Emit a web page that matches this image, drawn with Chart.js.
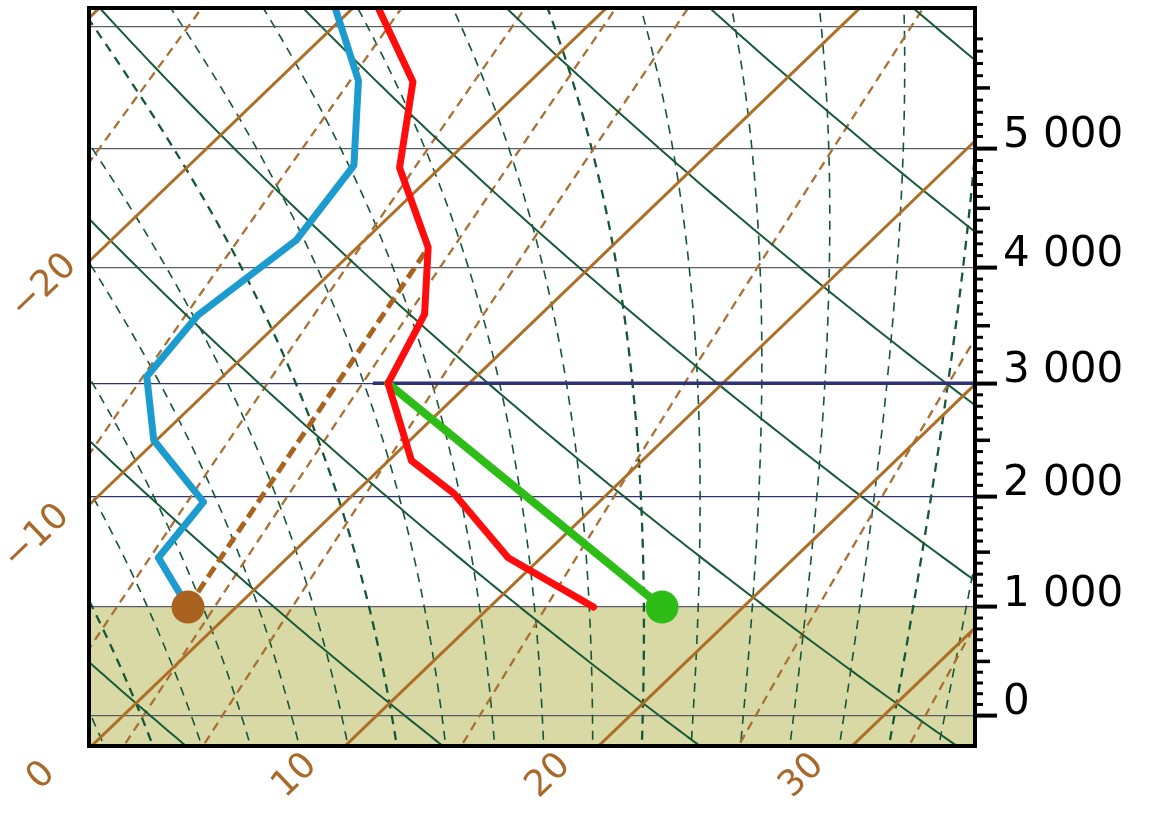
<!DOCTYPE html>
<html>
<head>
<meta charset="utf-8">
<script src="https://cdn.jsdelivr.net/npm/chart.js@4.4.1/dist/chart.umd.min.js"></script>
<style>
  html, body { margin: 0; padding: 0; background: #fff; }
</style>
</head>
<body>
<canvas id="skewt" width="1152" height="827"></canvas>
<script>
// ---- sounding (temperatures in °C, altitudes in m) ----
var tempAlt = [1000, 1450, 2030, 2320, 3000, 3600, 4170, 4840, 5550, 6150];
var tempC   = [14.1, 8.7, 3.9, 0.9, -3.2, -4.6, -7.2, -11.6, -14.6, -19.0];
var dewAlt  = [1000, 1450, 1950, 2500, 3060, 3590, 4230, 4860, 5560, 6150];
var dewC    = [-1.9, -5.1, -5.6, -10.1, -13.0, -13.5, -12.7, -13.5, -16.8, -20.7];
var parcelAlt = [1000, 3000];
var parcelC   = [16.8, -3.2];
var mixLineAlt = [1000, 3000, 4170];
var mixLineC   = [-1.9, -5.2, -7.2];
var groundAlt = 1000;
var cloudBaseAlt = 3000;
var cloudBaseC = [-3.8, 40];

// ---- diagram frame ----
var altRange = [-290, 6150];          // bottom / top of the diagram
var bottomTempRange = [-0.1, 34.85];  // temperature along the bottom edge
var altTickMax = 6000;
var altLabels = [0, 1000, 2000, 3000, 4000, 5000];
var isoLabels = [-20, -10, 0, 10, 20, 30];

// ---- background lines ----
var isotherms = [-40, -30, -20, -10, 0, 10, 20, 30, 40];
var dryAdiabats = [-10, 0, 10, 20, 30, 40, 50, 60, 70, 80];
var moistAdiabats = [-10, -8, -6, -4, -2, 0, 2, 4, 6, 8, 10, 12, 14, 16, 18, 20,
                     22, 24, 26, 28, 30, 32, 34, 36, 38, 40, 42, 44];
var mixingRatios = [1, 2, 3, 4, 5, 10, 20, 30];

var col = {
  iso: '#ad6e26', mix: '#a87034', dry: '#175a38', moist: '#145638',
  temp: '#ff0d0d', dew: '#1c9bcf', parcel: '#2dbd16', dotDew: '#a9631f',
  ground: '#d9d9a5', grid: '#5c5c68', navy: '#2f3276', label: '#a8692a'
};

// ---- skew-T geometry ----
var P0 = 1013.25;
var SKEW = 37.0;
function pressureAt(z) { return P0 * Math.pow(1 - 2.25577e-5 * z, 5.25588); }
function logP(p) { return Math.log(P0 / p); }
var Y_MIN = logP(pressureAt(altRange[0]));
var Y_MAX = logP(pressureAt(altRange[1]));
function toXY(tC, p) { var y = logP(p); return { x: tC + SKEW * (y - Y_MIN), y: y }; }
function atAlt(tC, z) { return toXY(tC, pressureAt(z)); }
function profile(temps, alts) { return temps.map(function (t, i) { return atAlt(t, alts[i]); }); }

var pLevels = [];
for (var p = 1060; p >= 450; p -= 5) pLevels.push(p);

function esat(tK) { return 6.112 * Math.exp(17.67 * (tK - 273.15) / (tK - 29.65)); }
function moistRate(p, t) {
  var e = esat(t), rs = 0.622 * e / (p - e);
  var Rd = 287.04, Cp = 1005.7, Lv = 2.501e6;
  return ((Rd * t + Lv * rs) / (Cp + Lv * Lv * rs * 0.622 / (Rd * t * t))) / p;
}
function rk4(t, p, dp) {
  var k1 = moistRate(p, t);
  var k2 = moistRate(p + dp / 2, t + dp / 2 * k1);
  var k3 = moistRate(p + dp / 2, t + dp / 2 * k2);
  var k4 = moistRate(p + dp, t + dp * k3);
  return t + dp / 6 * (k1 + 2 * k2 + 2 * k3 + k4);
}
function moistCurve(thw) {
  var above = [], below = [], t, p;
  t = thw + 273.15; p = 1000;
  above.push(toXY(t - 273.15, p));
  while (p > 450) { t = rk4(t, p, -5); p -= 5; above.push(toXY(t - 273.15, p)); }
  t = thw + 273.15; p = 1000;
  while (p < 1060) { t = rk4(t, p, 5); p += 5; below.push(toXY(t - 273.15, p)); }
  return below.reverse().concat(above);
}

function line(data, opts) {
  return Object.assign({ data: data, showLine: true, pointRadius: 0, pointHoverRadius: 0,
    tension: 0, fill: false, clip: 0, borderJoinStyle: 'round' }, opts);
}

var datasets = [];
// on top first
datasets.push({ data: [atAlt(parcelC[0], parcelAlt[0])], pointRadius: 16.5, pointBackgroundColor: col.parcel, pointBorderWidth: 0, showLine: false });
datasets.push({ data: [atAlt(dewC[0], dewAlt[0])], pointRadius: 16.5, pointBackgroundColor: col.dotDew, pointBorderWidth: 0, showLine: false });
datasets.push(line(profile(tempC, tempAlt), { borderColor: col.temp, borderWidth: 7, borderCapStyle: 'round' }));
datasets.push(line(profile(dewC, dewAlt), { borderColor: col.dew, borderWidth: 7, borderCapStyle: 'round' }));
datasets.push(line(profile(parcelC, parcelAlt), { borderColor: col.parcel, borderWidth: 8, borderCapStyle: 'round' }));
datasets.push(line(cloudBaseC.map(function (t) { return atAlt(t, cloudBaseAlt); }), { borderColor: col.navy, borderWidth: 3.5 }));
datasets.push(line(profile(mixLineC, mixLineAlt), { borderColor: col.dotDew, borderWidth: 5, borderDash: [12, 6] }));

isotherms.forEach(function (t) {
  datasets.push(line([toXY(t, 1060), toXY(t, 450)], { borderColor: col.iso, borderWidth: 3 }));
});
dryAdiabats.forEach(function (th) {
  datasets.push(line(pLevels.map(function (p) {
    return toXY((th + 273.15) * Math.pow(p / 1000, 0.2857) - 273.15, p);
  }), { borderColor: col.dry, borderWidth: 2 }));
});
mixingRatios.forEach(function (w) {
  datasets.push(line(pLevels.map(function (p) {
    var l = Math.log(w * p / (622 + w) / 6.112);
    return toXY(243.5 * l / (17.67 - l), p);
  }), { borderColor: col.mix, borderWidth: 2.3, borderDash: [9, 6] }));
});
moistAdiabats.forEach(function (thw) {
  datasets.push(line(moistCurve(thw), { borderColor: col.moist,
    borderWidth: thw % 10 === 0 ? 2.3 : 1.6, borderDash: [9, 7] }));
});

var altTicks = [];
for (var a = 0; a <= altTickMax; a += 100) altTicks.push(a);

function fmtAlt(a) { return a === 0 ? '0' : (a / 1000) + ' 000'; }

var skewtPlugin = {
  id: 'skewt',
  beforeDraw: function (chart) {
    var c = chart.ctx, ar = chart.chartArea, y = chart.scales.y;
    c.save();
    c.fillStyle = '#fff';
    c.fillRect(0, 0, chart.width, chart.height);
    var gy = y.getPixelForValue(logP(pressureAt(groundAlt)));
    c.fillStyle = col.ground;
    c.fillRect(ar.left, gy, ar.right - ar.left, ar.bottom - gy);
    c.restore();
  },
  afterDraw: function (chart) {
    var c = chart.ctx, ar = chart.chartArea, x = chart.scales.x, y = chart.scales.y;
    c.save();
    // minor altitude ticks
    c.strokeStyle = '#000';
    y.ticks.forEach(function (t) {
      if (t.alt % 1000 === 0) return;
      var py = y.getPixelForValue(t.value);
      var half = t.alt % 500 === 0;
      c.lineWidth = half ? 3.5 : 3;
      c.beginPath();
      c.moveTo(ar.right, py);
      c.lineTo(ar.right + (half ? 15 : 8), py);
      c.stroke();
    });
    // frame
    c.lineWidth = 4;
    c.strokeRect(ar.left, ar.top, ar.right - ar.left, ar.bottom - ar.top);
    // isotherm labels
    c.fillStyle = col.label;
    c.font = '36px "DejaVu Sans"';
    c.textAlign = 'center';
    c.textBaseline = 'middle';
    isoLabels.forEach(function (t) {
      var ax, ay, d = 57;
      var bx = x.getPixelForValue(t);
      if (bx >= ar.left) { ax = bx; ay = ar.bottom; }
      else {
        var yv = Y_MIN + (x.min - t) / SKEW;
        ax = ar.left; ay = y.getPixelForValue(yv);
        d = t < -15 ? 50 : 60;
      }
      var x1 = x.getPixelForValue(t), y1 = y.getPixelForValue(Y_MIN);
      var x2 = x.getPixelForValue(t + SKEW * 0.1), y2 = y.getPixelForValue(Y_MIN + 0.1);
      var len = Math.hypot(x2 - x1, y2 - y1), ux = (x2 - x1) / len, uy = (y2 - y1) / len;
      var cx = ax - ux * d + uy * 13, cy = ay - uy * d - ux * 13;
      c.save();
      c.translate(cx, cy);
      c.rotate(Math.atan2(uy, ux));
      c.fillText((t < 0 ? '\u2212' : '') + Math.abs(t), 0, 0);
      c.restore();
    });
    c.restore();
  }
};

new Chart(document.getElementById('skewt'), {
  type: 'scatter',
  data: { datasets: datasets },
  options: {
    responsive: false,
    animation: false,
    events: [],
    layout: { autoPadding: false, padding: { left: 89, top: 8, right: 0, bottom: 81 } },
    plugins: { legend: { display: false }, tooltip: { enabled: false } },
    scales: {
      x: { type: 'linear', min: bottomTempRange[0], max: bottomTempRange[1], display: false },
      y: {
        type: 'linear', position: 'right', min: Y_MIN, max: Y_MAX, bounds: 'data',
        afterBuildTicks: function (s) {
          s.ticks = altTicks.map(function (a) { return { value: logP(pressureAt(a)), alt: a }; });
        },
        afterFit: function (s) { s.width = 177; s.paddingTop = 0; s.paddingBottom = 0; },
        border: { color: '#000', width: 4 },
        grid: {
          drawTicks: true,
          tickLength: 22,
          tickWidth: 4,
          lineWidth: 1.2,
          color: function (ctx) {
            var a = ctx.tick ? ctx.tick.alt : 1;
            if (a % 1000 !== 0) return 'transparent';
            return (a === 2000 || a === 3000) ? col.navy : col.grid;
          },
          tickColor: function (ctx) {
            var a = ctx.tick ? ctx.tick.alt : 1;
            return altLabels.indexOf(a) >= 0 ? '#000' : 'transparent';
          }
        },
        ticks: {
          autoSkip: false,
          padding: 6,
          labelOffset: -12,
          color: '#000',
          font: { family: 'DejaVu Sans', size: 42 },
          callback: function (v, i, ticks) {
            var a = ticks[i].alt;
            return altLabels.indexOf(a) >= 0 ? fmtAlt(a) : '';
          }
        }
      }
    }
  },
  plugins: [skewtPlugin]
});
</script>
</body>
</html>
